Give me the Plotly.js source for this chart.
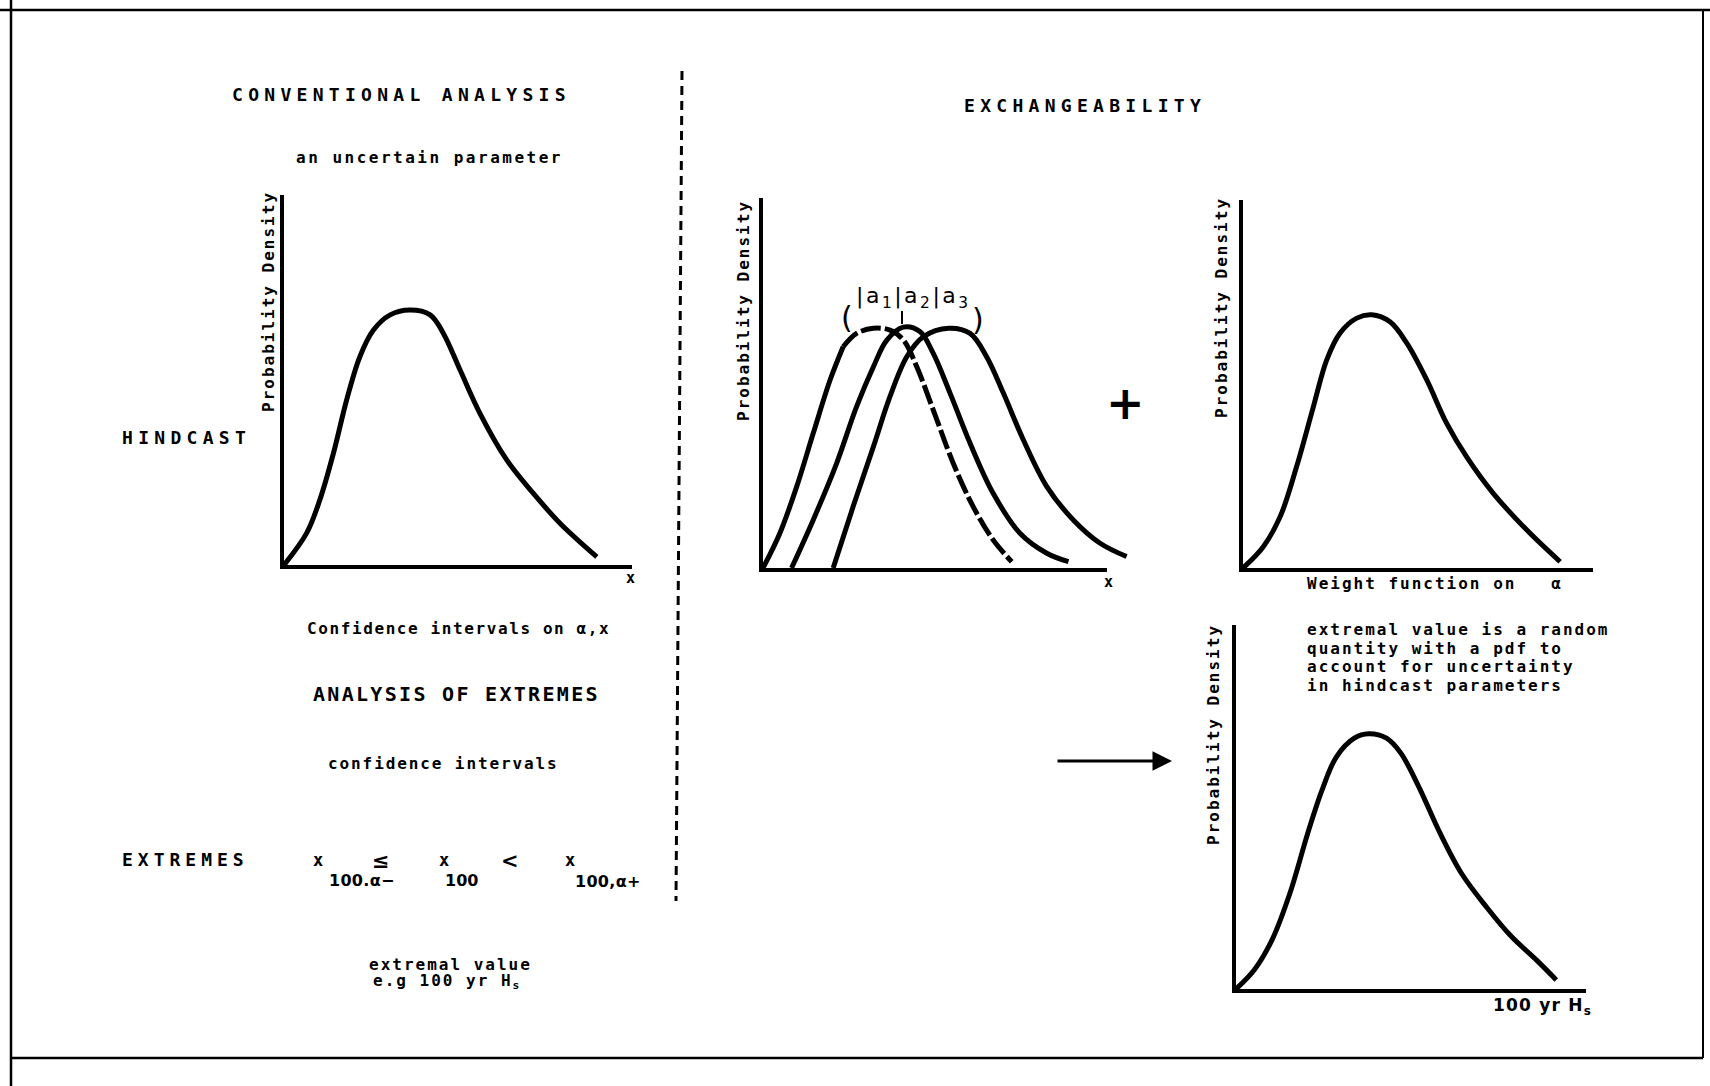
<!DOCTYPE html>
<html>
<head>
<meta charset="utf-8">
<script src="https://cdn.plot.ly/plotly-3.0.1.min.js"></script>
<style>
  html, body { margin: 0; padding: 0; background: #fff; }
  #chart { width: 1710px; height: 1086px; }
</style>
</head>
<body>
<div id="chart"></div>
<script>
// ---------- data (arbitrary units 0-100 on each panel) ----------
// Conventional analysis: one pdf of x
const convX = [0, 6.5, 10.3, 14.2, 18.0, 21.8, 25.7, 30.5, 36.2, 42.0, 45.8, 50.6, 56.3, 64.0, 71.6, 79.3, 89.9];
const convY = [0, 8.6, 17.6, 30.2, 44.6, 56.3, 63.5, 67.6, 68.9, 67.6, 62.6, 52.7, 41.0, 28.4, 19.4, 11.3, 2.2];

// Exchangeability: three pdfs for a1, a2, a3
const exA_X = [0, 4.9, 9.8, 14.6, 19.5, 23.3, 27.2, 32.1, 36.9, 40.8, 44.7, 49.5, 55.3, 61.1, 66.9, 72.3];
const exA_Y = [0, 9.4, 22.0, 36.4, 50.8, 59.8, 63.4, 64.8, 64.3, 61.6, 54.4, 42.7, 28.3, 16.6, 7.6, 1.7];
const exB_X = [8.3, 14.6, 21.4, 27.2, 32.1, 36.0, 40.8, 45.6, 49.5, 54.4, 60.2, 66.9, 74.7, 82.5, 88.8];
const exB_Y = [0, 13.0, 28.3, 43.6, 54.4, 61.6, 65.1, 63.9, 58.0, 47.2, 33.7, 20.2, 9.4, 4.0, 1.7];
const exC_X = [20.4, 26.2, 32.1, 36.9, 41.8, 46.6, 54.0, 60.2, 65.0, 69.9, 75.7, 82.5, 90.2, 98.0, 105.7];
const exC_Y = [0, 16.6, 32.8, 46.3, 57.1, 62.5, 64.8, 63.4, 57.1, 47.2, 34.6, 22.0, 13.0, 6.7, 3.1];
const exA_solidPoints = 6;   // the rising flank of the a1 curve is drawn solid, the rest dashed

// Weight function on alpha
const wX = [0, 5.8, 10.6, 15.3, 20.1, 23.9, 27.7, 32.5, 36.8, 42.0, 46.8, 52.5, 58.2, 63.9, 71.5, 81.1, 90.6];
const wY = [0, 5.8, 13.9, 27.5, 43.8, 56.5, 63.8, 67.9, 68.8, 66.9, 61.1, 51.1, 39.3, 30.2, 20.3, 10.3, 1.7];

// Extremal value (100 yr Hs) pdf
const eX = [0, 5.2, 10.3, 15.4, 20.5, 24.6, 28.7, 33.8, 37.9, 43.0, 47.1, 52.2, 58.3, 64.4, 71.5, 78.7, 85.8, 91.5];
const eY = [0, 5.2, 13.5, 26.3, 42.8, 54.7, 63.8, 68.9, 70.1, 68.9, 64.8, 55.6, 42.8, 31.8, 22.6, 14.4, 8.0, 2.5];

// ---------- layout helpers ----------
const W = 1710, H = 1086;
const px = v => v / W;
const py = v => 1 - v / H;
const MONO = 'DejaVu Sans Mono';
const SANS = 'DejaVu Sans';

function xax(x0, x1, range, anchor, show) {
  return { domain: [px(x0), px(x1)], range: range, anchor: anchor, showline: show, visible: true,
           linewidth: 4, linecolor: '#000', showgrid: false, zeroline: false,
           showticklabels: false, ticks: '', fixedrange: true };
}
function yax(y0, y1, anchor) {
  return { domain: [py(y1), py(y0)], range: [0, 100], anchor: anchor, showline: true,
           linewidth: 4, linecolor: '#000', showgrid: false, zeroline: false,
           showticklabels: false, ticks: '', fixedrange: true };
}
function ls(t, s) { return '<span style="letter-spacing:' + s + 'px">' + t + '</span>'; }

function T(text, x, y, o) {
  o = o || {};
  return {
    text: text, x: px(x), y: py(y), xref: 'paper', yref: 'paper', showarrow: false,
    xanchor: o.xa || 'center', yanchor: o.ya || 'middle', textangle: o.angle || 0,
    font: { family: o.family || MONO, size: o.size || 16, color: '#000', weight: o.weight || 'bold' }
  };
}

function curve(x, y, xa, ya, dash) {
  return { x: x, y: y, xaxis: xa, yaxis: ya, mode: 'lines', hoverinfo: 'skip', showlegend: false,
           line: { color: '#000', width: 5, shape: 'spline', smoothing: 1.0, dash: dash || 'solid' } };
}

const traces = [
  curve(convX, convY, 'x', 'y'),
  { x: [], y: [], xaxis: 'x2', yaxis: 'y2', mode: 'lines', showlegend: false, hoverinfo: 'skip' },
  curve(exA_X.slice(0, exA_solidPoints), exA_Y.slice(0, exA_solidPoints), 'x6', 'y2'),
  curve(exA_X.slice(exA_solidPoints - 1), exA_Y.slice(exA_solidPoints - 1), 'x6', 'y2', '20px,4px'),
  curve(exB_X, exB_Y, 'x6', 'y2'),
  curve(exC_X, exC_Y, 'x6', 'y2'),
  curve(wX, wY, 'x3', 'y3'),
  curve(eX, eY, 'x4', 'y4')
];

const TS = 5.3;   // letter spacing of the plotter-style capital headings
const SS = 2.0;   // letter spacing of the small bold texts
const annotations = [
  // headings
  T(ls('CONVENTIONAL ANALYSIS', TS), 401, 94, { size: 18 }),
  T(ls('EXCHANGEABILITY', TS), 1085, 105, { size: 18 }),
  T(ls('HINDCAST', TS), 120, 437, { size: 18, xa: 'left' }),
  T(ls('EXTREMES', 5.0), 120, 859, { size: 18, xa: 'left' }),
  T(ls('ANALYSIS OF EXTREMES', 2.3), 456, 694, { size: 20 }),
  // left column small texts
  T(ls('an uncertain parameter', 2.5), 429, 158),
  T(ls('Confidence intervals on α,x', 1.6), 458, 628),
  T(ls('confidence intervals', 1.9), 443, 763),
  T(ls('extremal value', SS), 450, 964),
  T(ls('e.g 100 yr H<sub>s</sub>', SS), 447, 981),
  // inequality x100,a- < x100 < x100,a+
  T('x', 318, 860, { size: 17 }),
  T('≤', 381, 861, { size: 21, family: SANS }),
  T(ls('100.α−', 0.3), 362, 880, { size: 16, family: SANS }),
  T('x', 444, 860, { size: 17 }),
  T('100', 461, 880, { size: 16, family: SANS }),
  T('<', 510, 861, { size: 21, family: SANS }),
  T('x', 570, 860, { size: 17 }),
  T(ls('100,α+', 0.3), 608, 881, { size: 16, family: SANS }),
  // axis labels
  T(ls('Probability Density', SS), 268, 302, { angle: -90 }),
  T(ls('Probability Density', SS), 743, 311, { angle: -90 }),
  T(ls('Probability Density', SS), 1222, 308, { angle: -90 }),
  T(ls('Probability Density', SS), 1213, 735, { angle: -90 }),
  T('x', 630, 578, { size: 15 }),
  T('x', 1108, 582, { size: 15 }),
  T(ls('Weight function on   α', SS), 1305, 583, { xa: 'left' }),
  T(ls('100 yr H<sub>s</sub>', 1.2), 1491, 1006, { xa: 'left', size: 17, family: SANS }),
  // right text block
  T(ls('extremal value is a random', SS), 1305, 629, { xa: 'left' }),
  T(ls('quantity with a pdf to', SS), 1305, 648, { xa: 'left' }),
  T(ls('account for uncertainty', SS), 1305, 666, { xa: 'left' }),
  T(ls('in hindcast parameters', SS), 1305, 685, { xa: 'left' }),
  // a1 a2 a3 labels with brace ends
  T(ls('|a<sub>1</sub>|a<sub>2</sub>|a<sub>3</sub>', 2.5), 913, 297, { size: 22, family: SANS, weight: 'normal' }),
  T('(', 847, 317, { size: 30, family: SANS, weight: 'normal' }),
  T(')', 978, 319, { size: 30, family: SANS, weight: 'normal' }),
  // plus sign
  T('+', 1125, 403, { size: 46, family: SANS }),
  // arrow
  { text: '', x: px(1172), y: py(761), xref: 'paper', yref: 'paper', showarrow: true,
    ax: -116, ay: 0, arrowhead: 2, arrowsize: 1.3, arrowwidth: 3, arrowcolor: '#000', standoff: 0 }
];

function seg(x0, y0, x1, y1, w, dash) {
  return { type: 'line', xref: 'paper', yref: 'paper', x0: px(x0), y0: py(y0), x1: px(x1), y1: py(y1),
           line: { color: '#000', width: w, dash: dash || 'solid' } };
}
const shapes = [
  seg(0, 10, 1710, 10, 2.5),
  seg(11, 0, 11, 1086, 2.5),
  seg(11, 1058, 1703, 1058, 2.5),
  seg(1703, 10, 1703, 1058, 2),
  seg(682, 71, 676, 901, 3, '9px,6px'),
  seg(902, 311, 902, 324, 2)          // small tick under a2
];

const layout = {
  width: W, height: H, margin: { l: 0, r: 0, t: 0, b: 0 },
  paper_bgcolor: '#fff', plot_bgcolor: 'rgba(0,0,0,0)', showlegend: false,
  xaxis: xax(284, 632, [0, 100], 'y', true),
  yaxis: yax(195, 565, 'x'),
  xaxis2: xax(763, 1107, [0, 100], 'y2', true),
  yaxis2: yax(198, 568, 'x2'),
  xaxis3: xax(1243, 1593, [0, 100], 'y3', true),
  yaxis3: yax(200, 568, 'x3'),
  xaxis4: xax(1236, 1586, [0, 100], 'y4', true),
  yaxis4: yax(625, 989, 'x4'),
  xaxis6: Object.assign(xax(763, 763 + 344 * 1.1, [0, 110], 'y2', false), { visible: false }),
  annotations: annotations,
  shapes: shapes
};

Plotly.newPlot('chart', traces, layout, { staticPlot: true, displayModeBar: false });
</script>
</body>
</html>
